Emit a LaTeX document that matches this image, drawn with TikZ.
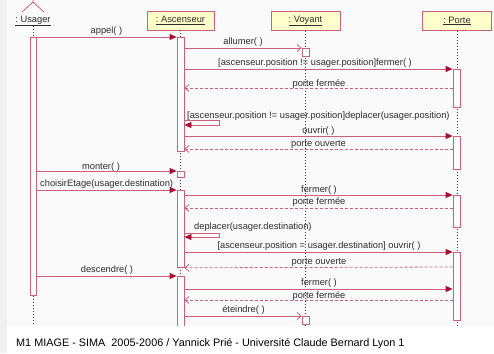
\documentclass[tikz,border=0pt]{standalone}
\usepackage{fontspec}
\setmainfont{Liberation Sans}
\usetikzlibrary{positioning,arrows.meta}

\definecolor{umlline}{RGB}{205,95,125}
\definecolor{umlhead}{RGB}{165,15,50}
\definecolor{umlfill}{RGB}{255,255,204}
\definecolor{umltext}{RGB}{45,45,45}

\tikzset{
  head/.style={draw=umlline,fill=umlfill,line width=0.8pt,minimum height=19pt,inner sep=0pt,
    text=umltext,font=\fontsize{9.3}{10}\selectfont},
  bar/.style={draw=umlline,fill=white,line width=0.8pt,minimum width=7pt,inner sep=0pt,anchor=north},
  life/.style={black!75,line width=0.8pt,dash pattern=on 1pt off 2pt},
  call/.style={umlline,line width=0.8pt,-{Triangle[length=7pt,width=6pt,color=umlhead]}},
  async/.style={umlline,line width=0.8pt,-{Straight Barb[length=4pt,width=7pt]}},
  reply/.style={umlline,line width=0.8pt,dash pattern=on 3pt off 2pt,-{Straight Barb[length=4pt,width=7pt]}},
  lbl/.style={text=umltext,font=\fontsize{9.3}{10}\selectfont,inner sep=0pt,anchor=base}
}

\begin{document}
\begin{tikzpicture}[x=1pt,y=-1pt]
  % background
  \useasboundingbox (0,0) rectangle (494,353);
  \fill[white] (0,0) rectangle (494,353);
  \fill[black!2] (7,0) rectangle (494,326);
  \fill[black!6] (0,0) rectangle (7,353);

  % actor and objects
  \coordinate (hip) at (33,2);
  \draw[umlline,line width=0.8pt] (33,0) -- (hip) -- (22,12);
  \draw[umlline,line width=0.8pt] (hip) -- (44,12);
  \node[lbl,anchor=center] (usr) at (33,21) {\underline{:\ Usager}};
  \node[head,minimum width=67pt] (asc) at (180.5,20.5) {\underline{:\ Ascenseur}};
  \node[head,minimum width=69pt] (voy) at (305.5,21) {\underline{:\ Voyant}};
  \node[head,minimum width=69pt] (por) at (457,21) {\underline{:\ Porte}};

  % lifelines
  \draw[life] (usr.south) -- (usr.south |- 0,325);
  \draw[life] (asc.south) -- (asc.south |- 0,325);
  \draw[life] (voy.south) -- (voy.south |- 0,325);
  \draw[life] (por.south) -- (por.south |- 0,325);

  % activations
  \node[bar,minimum width=6pt,minimum height=258pt] (usA) at (33,37) {};
  \node[bar,minimum height=114pt] (asA) at (180.5,37) {};
  \node[bar,minimum height=6pt] (asB) at (180.5,171) {};
  \node[bar,minimum height=77pt] (asC) at (180.5,190) {};
  \node[bar,minimum height=50pt] (asD) at (180.5,276) {};
  \node[bar,minimum height=8pt] (voA) at (305.5,48) {};
  \node[bar,minimum height=8pt] (voB) at (305.5,316) {};
  \node[bar,minimum height=38pt] (poA) at (456.5,69) {};
  \node[bar,minimum height=33pt] (poB) at (456.5,136) {};
  \node[bar,minimum height=32pt] (poC) at (456.5,195) {};
  \node[bar,minimum height=68pt] (poD) at (456.5,252) {};

  % messages
  \draw[call] (usA.east |- asA.north) -- (asA.north west);
  \node[lbl] (m1) at (106.5,33.5) {appel( )};
  \draw[async] (asA.east |- voA.north) -- (voA.north west);
  \node[lbl] (m2) at (243,44.5) {allumer( )};
  \draw[call] (asA.east |- poA.north) -- (poA.north west);
  \node[lbl] (m3) at (315,65.5) {[ascenseur.position != usager.position]fermer( )};
  \draw[reply] (poA.west |- 0,88) -- (asA.east |- 0,88);
  \node[lbl] (r3) at (319,86.5) {porte fermée};
  \draw[call] (asA.east |- 0,120) -- ++(35,0) |- (asA.east |- 0,125);
  \node[lbl,anchor=base west] (m4) at (187,118.5) {[ascenseur.position != usager.position]deplacer(usager.position)};
  \draw[call] (asA.east |- poB.north) -- (poB.north west);
  \node[lbl] (m5) at (318.5,133) {ouvrir( )};
  \draw[reply] (poB.west |- 0,149) -- (asA.east |- 0,149);
  \node[lbl] (r5) at (318.5,146) {porte ouverte};

  \draw[call] (usA.east |- asB.north) -- (asB.north west);
  \node[lbl] (m6) at (101,169.5) {monter( )};
  \draw[call] (usA.east |- asC.north) -- (asC.north west);
  \node[lbl,anchor=base west] (m7) at (40,186) {choisirEtage(usager.destination)};
  \draw[call] (asC.east |- poC.north) -- (poC.north west);
  \node[lbl] (m8) at (319,192) {fermer( )};
  \draw[reply] (poC.west |- 0,208) -- (asC.east |- 0,208);
  \node[lbl] (r8) at (319,204.5) {porte fermée};
  \draw[call] (asC.east |- 0,233) -- ++(35,0) |- (asC.east |- 0,237);
  \node[lbl,anchor=base west] (m9) at (194,229.5) {deplacer(usager.destination)};
  \draw[call] (asC.east |- poD.north) -- (poD.north west);
  \node[lbl] (m10) at (319,248) {[ascenseur.position = usager.destination] ouvrir( )};
  \draw[reply] (poD.west |- 0,267) -- (asC.south east);
  \node[lbl] (r10) at (319,264) {porte ouverte};

  \draw[call] (usA.east |- asD.north) -- (asD.north west);
  \node[lbl] (m11) at (107,272) {descendre( )};
  \draw[call] (asD.east |- 0,289) -- (poD.west |- 0,289);
  \node[lbl] (m12) at (319,285) {fermer( )};
  \draw[reply] (poD.west |- 0,300) -- (asD.east |- 0,300);
  \node[lbl] (r12) at (319,298.5) {porte fermée};
  \draw[async] (asD.east |- voB.north) -- (voB.north west);
  \node[lbl] (m13) at (243.5,312.5) {éteindre( )};

  % footer
  \fill[white] (7,326) rectangle (494,353);
  \node[lbl,anchor=base west,text=black,font=\fontsize{10.85}{12}\selectfont] (foot) at (16,346)
    {M1 MIAGE - SIMA\ \ 2005-2006 / Yannick Prié - Université Claude Bernard Lyon 1};
\end{tikzpicture}
\end{document}
